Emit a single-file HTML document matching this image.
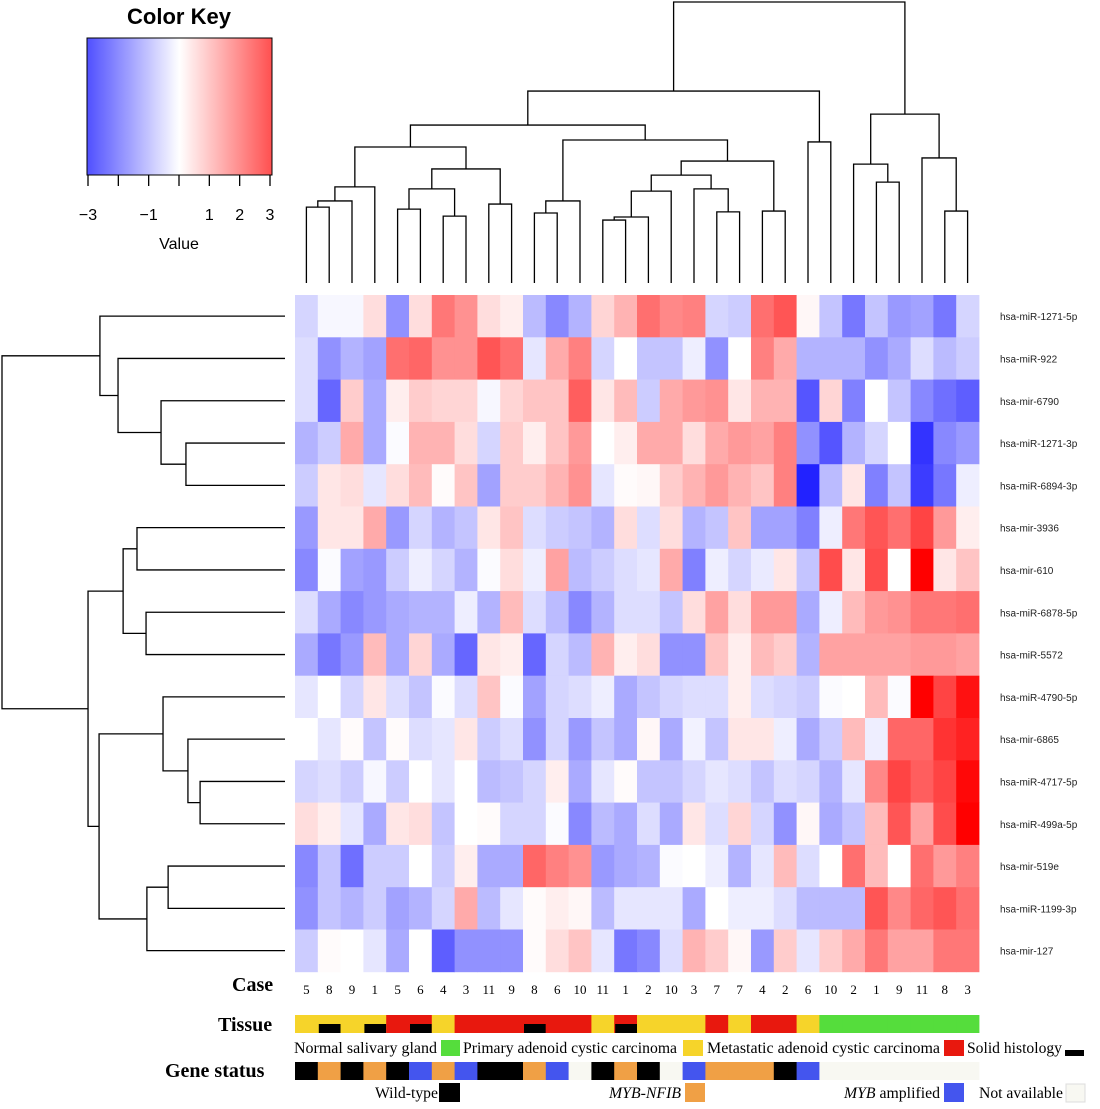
<!DOCTYPE html>
<html><head><meta charset="utf-8"><style>
html,body{margin:0;padding:0;background:#fff;}
svg{display:block;}
</style></head><body>
<svg id="chart" width="1100" height="1109" viewBox="0 0 1100 1109" xmlns="http://www.w3.org/2000/svg"></svg>
<script>
const rowLabels = ["hsa-miR-1271-5p","hsa-miR-922","hsa-mir-6790","hsa-miR-1271-3p","hsa-miR-6894-3p","hsa-mir-3936","hsa-mir-610","hsa-miR-6878-5p","hsa-miR-5572","hsa-miR-4790-5p","hsa-mir-6865","hsa-miR-4717-5p","hsa-miR-499a-5p","hsa-mir-519e","hsa-miR-1199-3p","hsa-mir-127"];
const caseLabels = ["5","8","9","1","5","6","4","3","11","9","8","6","10","11","1","2","10","3","7","7","4","2","6","10","2","1","9","11","8","3"];
const values = [
[-0.5,-0.1,-0.1,0.4,-1.3,0.4,1.6,1.3,0.4,0.2,-0.8,-1.4,-0.9,0.5,0.9, 1.7,1.4,1.5,-0.5,-0.6,1.7,2.0,0.1,-0.7,-1.6,-0.7,-1.2,-1.1,-1.6,-0.5],
[-0.4,-1.3,-0.9,-1.1,1.7,1.8,1.3,1.3,2.0,1.7,-0.3,1.0,1.5,-0.5,0.0, -0.7,-0.7,-0.2,-1.3,0.0,1.5,1.0,-0.9,-0.9,-0.9,-1.3,-1.0,-0.4,-0.8,-0.6],
[-0.4,-1.8,0.6,-1.0,0.2,0.6,0.5,0.5,-0.1,0.5,0.7,0.7,1.9,0.3,0.8, -0.6,1.0,1.2,1.3,0.3,0.9,0.9,-2.0,0.5,-1.5,0.0,-0.7,-1.4,-1.7,-1.9],
[-0.9,-0.6,1.0,-1.0,-0.05,0.9,0.9,0.4,-0.5,0.6,0.2,0.7,1.2,0.0,0.2, 1.0,1.0,0.4,1.0,1.2,1.1,1.5,-1.3,-2.0,-0.9,-0.5,0.0,-2.4,-1.4,-1.2],
[-0.6,0.3,0.4,-0.3,0.4,0.8,0.05,0.7,-1.1,0.6,0.6,0.9,1.3,-0.3,0.05, 0.1,0.6,0.9,1.2,0.9,0.7,1.5,-2.6,-0.8,0.3,-1.5,-0.7,-2.3,-1.6,-0.2],
[-1.2,0.3,0.3,1.0,-1.2,-0.5,-0.9,-0.7,0.3,0.7,-0.4,-0.6,-0.7,-0.9,0.4, -0.4,0.4,-0.9,-0.7,0.7,-1.1,-1.1,-1.5,-0.2,1.6,2.0,1.7,2.2,1.2,0.2],
[-1.4,-0.05,-1.1,-1.2,-0.6,-0.2,-0.5,-0.9,-0.05,0.4,-0.2,1.1,-0.8,-0.6,-0.4, -0.3,1.0,-1.5,-0.2,-0.5,-0.25,0.3,-0.7,2.1,0.3,2.1,0.0,3.0,0.3,0.7],
[-0.4,-1.0,-1.4,-1.2,-1.0,-0.9,-0.9,-0.2,-0.9,0.8,-0.4,-0.8,-1.4,-0.9,-0.4, -0.4,-0.7,0.4,1.1,0.4,1.2,1.2,-1.0,-0.2,0.8,1.2,1.3,1.6,1.6,1.7],
[-1.0,-1.6,-1.2,0.8,-1.0,0.5,-1.0,-1.8,0.3,0.2,-1.8,-0.5,-0.8,0.9,0.2, 0.4,-1.3,-1.3,0.7,0.2,0.8,0.6,-0.9,1.1,1.1,1.1,1.1,1.2,1.2,1.1],
[-0.3,0.0,-0.5,0.3,-0.4,-0.7,-0.05,-0.4,0.7,-0.05,-1.1,-0.5,-0.4,-0.2,-1.0, -0.7,-0.5,-0.4,-0.4,0.2,-0.4,-0.5,-0.6,-0.05,0.0,0.8,-0.05,3.0,2.2,2.8],
[0.0,-0.3,0.05,-0.7,0.05,-0.4,-0.3,0.3,-0.6,-0.4,-1.3,-0.5,-1.2,-0.7,-1.0, 0.1,-1.0,-0.15,-0.7,0.3,0.3,-0.2,-1.0,-0.6,0.8,-0.2,1.8,1.8,2.4,2.6],
[-0.5,-0.4,-0.6,-0.1,-0.6,0.0,-0.3,0.0,-0.8,-0.7,-0.5,0.2,-1.0,-0.3,0.05, -0.7,-0.7,-0.5,-0.3,-0.4,-0.7,-0.4,-0.5,-0.9,-0.3,1.4,2.2,1.9,2.2,2.9],
[0.4,0.2,-0.3,-1.0,0.3,0.4,-0.7,0.0,0.05,-0.5,-0.5,-0.05,-1.4,-0.8,-1.0, -0.4,-1.0,0.3,-0.4,0.5,-0.5,-1.3,0.1,-1.0,-0.7,0.8,2.0,1.1,2.1,3.0],
[-1.4,-0.7,-1.7,-0.6,-0.6,0.0,-0.6,0.2,-1.0,-1.0,1.8,1.5,1.3,-1.2,-1.0, -0.9,-0.05,0.0,-0.2,-0.9,-0.3,0.8,-0.4,0.0,1.7,0.8,0.0,1.7,1.2,1.5],
[-1.3,-0.7,-0.9,-0.6,-1.1,-0.9,-0.5,1.0,-0.8,-0.3,0.05,0.2,0.1,-0.8,-0.3, -0.3,-0.3,-1.0,0.0,-0.2,-0.2,-0.4,-0.8,-0.8,-0.8,2.0,1.4,1.8,2.0,1.7],
[-0.6,0.05,0.0,-0.3,-1.0,0.0,-1.9,-1.3,-1.3,-1.3,0.05,0.4,0.7,-0.3,-1.6, -1.4,-0.4,0.9,0.6,0.1,-1.2,0.6,-0.3,0.6,1.0,1.6,1.1,1.1,1.6,1.6]
];
const colMerges = [
[0,1,27.0],[-1,2,29.2],[-2,3,34.2],[4,5,26.3],[6,7,23.8],[-4,-5,33.5],[8,9,28.1],[-6,-7,40.6],[-3,-8,48.4],
[10,11,24.9],[-10,12,29.2],[13,14,22.4],[-12,15,23.5],[-13,16,32.7],[18,19,25.3],[17,-15,33.5],[-14,-16,38.4],
[20,21,25.6],[-17,-18,43.4],[-11,-19,50.9],[-9,-20,56.2],[22,23,50.2],[-21,-22,68.3],
[25,26,35.9],[24,-24,42.3],[28,29,25.6],[27,-26,44.5],[-25,-27,60.1],[-23,-28,100]
];
const rowMerges = [
[3,4,35.0],[2,-1,43.8],[1,-2,59.0],[0,-3,65.4],[5,6,52.3],[7,8,49.1],[-5,-6,57.2],
[11,12,30.0],[10,-8,34.3],[9,-9,43.1],[13,14,41.3],[-11,15,48.8],[-10,-12,65.7],[-7,-13,69.6],[-4,-14,100]
];
const tissue = ["P","P","P","P","M","M","P","M","M","M","M","M","M","P","M","P","P","P","M","P","M","M","P","N","N","N","N","N","N","N"];
const solid = [0,1,0,1,0,1,0,0,0,0,1,0,0,0,1,0,0,0,0,0,0,0,0,0,0,0,0,0,0,0];
const gene = ["W","F","W","F","W","A","F","A","W","W","F","A","X","W","F","W","X","A","F","F","F","W","A","X","X","X","X","X","X","X"];
const keyTicks = [-3,-2,-1,0,1,2,3];
const keyTickLabels = ["\u22123","","\u22121","","1","2","3"];

const NS="http://www.w3.org/2000/svg";
const svg=document.getElementById('chart');
function mk(tag,attrs,parent){const e=document.createElementNS(NS,tag);for(const k in attrs)e.setAttribute(k,attrs[k]);(parent||svg).appendChild(e);return e;}
const HX0=295,HY0=295,CW=22.8,RH=42.3;
const nC=caseLabels.length,nR=rowLabels.length;
function xCol(i){return HX0+CW*i;}
function yRow(j){return HY0+RH*j;}
function color(v){const t=Math.max(-1,Math.min(1,v/3));const s=Math.round(255*(1-Math.abs(t)));return t>=0?`rgb(255,${s},${s})`:`rgb(${s},${s},255)`;}

const hm=mk('g',{});


for(let j=0;j<nR;j++)for(let i=0;i<nC;i++){
  const r=mk('rect',{x:xCol(i),y:yRow(j),width:CW+0.4,height:RH+0.4,fill:color(values[j][i])},hm);
  
  
}
for(let j=0;j<nR;j++){
  const t=mk('text',{x:1000,y:yRow(j)+RH/2+4,'font-size':10,'font-family':'Liberation Sans, sans-serif',fill:'#222'});
  t.textContent=rowLabels[j];
  
  
}
const ct=mk('text',{x:232,y:991,'font-size':20,'font-weight':'bold','font-family':'Liberation Serif, serif'});ct.textContent='Case';

for(let i=0;i<nC;i++){
  const t=mk('text',{x:xCol(i)+CW/2,y:994,'font-size':13,'text-anchor':'middle','font-family':'Liberation Serif, serif'});
  t.textContent=caseLabels[i];
  
  
}
function dendro(merges,nLeaves,horizontal,g){
  const pos=[],hh=[];
  function P(c){return c>=0?c:pos[-c-1];} function H(c){return c>=0?0:hh[-c-1];}
  merges.forEach((m,k)=>{
    const pa=P(m[0]),pb=P(m[1]),ha=H(m[0]),hb=H(m[1]),h=m[2];
    pos[k]=(pa+pb)/2;hh[k]=h;
    let d;
    if(!horizontal){
      const X=p=>xCol(p)+CW/2, Y=v=>283-v*2.81;
      d=`M${X(pa)},${Y(ha)}V${Y(h)}H${X(pb)}V${Y(hb)}`;
    }else{
      const Y=p=>yRow(p)+RH/2, X=v=>285-v*2.83;
      d=`M${X(ha)},${Y(pa)}H${X(h)}V${Y(pb)}H${X(hb)}`;
    }
    const p=mk('path',{d:d,fill:'none',stroke:'#000','stroke-width':1.3},g);
    
    
  });
}
const cg=mk('g',{});
dendro(colMerges,nC,false,cg);
const rg=mk('g',{});
dendro(rowMerges,nR,true,rg);

const defs=mk('defs',{});
const lg=mk('linearGradient',{id:'kg',x1:0,x2:1,y1:0,y2:0},defs);
[[0,'rgb(80,80,255)'],[0.5,'#fff'],[1,'rgb(255,80,80)']].forEach(s=>mk('stop',{offset:s[0],'stop-color':s[1]},lg));
const kt=mk('text',{x:179,y:24,'font-size':22,'font-weight':'bold','text-anchor':'middle','font-family':'Liberation Sans, sans-serif'});kt.textContent='Color Key';

const kb=mk('rect',{x:87,y:38,width:185,height:137,fill:'url(#kg)',stroke:'#000','stroke-width':1});

const kx=v=>88+(v+3)/6*182;
keyTicks.forEach((v,i)=>{
  const l=mk('line',{x1:kx(v),x2:kx(v),y1:175,y2:186,stroke:'#000','stroke-width':1.3});
  
  if(keyTickLabels[i]){const t=mk('text',{x:kx(v),y:220,'font-size':16,'text-anchor':'middle','font-family':'Liberation Sans, sans-serif'});t.textContent=keyTickLabels[i];
  }
});
const kv=mk('text',{x:179,y:249,'font-size':16,'text-anchor':'middle','font-family':'Liberation Sans, sans-serif'});kv.textContent='Value';


const tColors={N:'#55dd3c',P:'#f6d42a',M:'#e8180e'};
const tt=mk('text',{x:218,y:1031,'font-size':20,'font-weight':'bold','font-family':'Liberation Serif, serif'});tt.textContent='Tissue';

for(let i=0;i<nC;i++){
  const r=mk('rect',{x:xCol(i),y:1015,width:CW+0.4,height:18,fill:tColors[tissue[i]]});
  
  if(solid[i]){const b=mk('rect',{x:xCol(i)+1,y:1024,width:CW-1,height:9,fill:'#000'});
  }
}
const gColors={W:'#000',F:'#f0a045',A:'#4455ee',X:'#f8f8f2'};
const gt=mk('text',{x:165,y:1077,'font-size':20,'font-weight':'bold','font-family':'Liberation Serif, serif'});gt.textContent='Gene status';

for(let i=0;i<nC;i++){
  const r=mk('rect',{x:xCol(i),y:1062,width:CW+0.4,height:18,fill:gColors[gene[i]]});
  
}
function leg(txt,tx,ty,tw,bx,by,bw,bh,fill,italic,name){
  const t=mk('text',{x:tx,y:ty,'font-size':16,'font-family':'Liberation Serif, serif',textLength:tw,lengthAdjust:'spacingAndGlyphs'});
  if(italic){const a=mk('tspan',{'font-style':'italic'},t);a.textContent=italic;const b=mk('tspan',{},t);b.textContent=txt;}else t.textContent=txt;
  
  const r=mk('rect',{x:bx,y:by,width:bw,height:bh,fill:fill,stroke:fill==='#f8f8f2'?'#ddd':'none'});
  
}
leg('Normal salivary gland',294,1053,143,441,1040,19,16,'#55dd3c',null,'legend-normal');
leg('Primary adenoid cystic carcinoma',463,1053,214,683,1040,20,16,'#f6d42a',null,'legend-primary');
leg('Metastatic adenoid cystic carcinoma',707,1053,233,944,1040,20,16,'#e8180e',null,'legend-metastatic');
leg('Solid histology',967,1053,95,1065,1050,19,6,'#000',null,'legend-solid');
leg('Wild-type',375,1098,63,439,1083,21,19,'#000',null,'legend-wild-type');
leg('',609,1098,72,685,1083,20,19,'#f0a045','MYB-NFIB','legend-myb-nfib');
leg(' amplified',844,1098,96,944,1083,20,19,'#4455ee','MYB','legend-myb-amplified');
leg('Not available',979,1098,84,1066,1084,19,18,'#f8f8f2',null,'legend-not-available');
</script>
</body></html>
